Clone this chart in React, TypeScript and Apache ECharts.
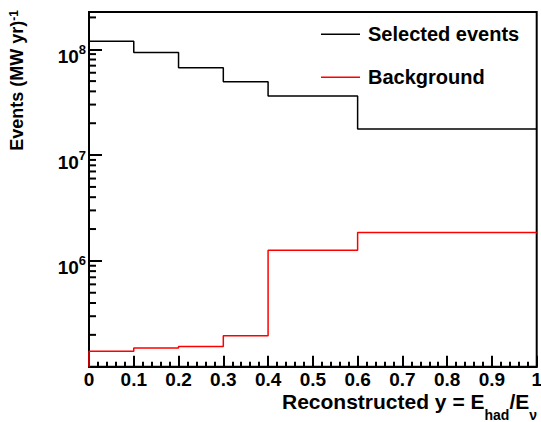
import React, { useEffect, useRef } from 'react';
import * as echarts from 'echarts';

// ---- data ----
const binEdges = [0, 0.1, 0.2, 0.3, 0.4, 0.6, 1.0];
const selectedEvents = [1.19e8, 9.3e7, 6.7e7, 4.94e7, 3.62e7, 1.76e7];
const backgroundEvents = [1.4e5, 1.5e5, 1.55e5, 1.96e5, 1.26e6, 1.85e6];
const seriesNames = ['Selected events', 'Background'];
const seriesColors = ['#000000', '#ff0000'];
const yMin = 1e5;
const yMax = 2.25e8;
const yLabelExponents = [6, 7, 8];
const xMin = 0;
const xMax = 1;
const xInterval = 0.1;

const FONT = '"Liberation Sans", Arial, Helvetica, sans-serif';

function histogramPoints(values: number[]): number[][] {
  const pts: number[][] = [[binEdges[0], yMin]];
  binEdges.forEach((e, i) => {
    pts.push([e, values[Math.min(i, values.length - 1)]]);
  });
  return pts;
}

function minorLogTicks(): number[][] {
  const out: number[][] = [];
  for (let k = 5; k <= 8; k++) {
    for (let m = 2; m <= 9; m++) {
      const v = m * Math.pow(10, k);
      if (v < yMax) out.push([0, v]);
    }
  }
  return out;
}

export default function App() {
  const ref = useRef<HTMLDivElement>(null);

  useEffect(() => {
    if (!ref.current) return;
    const chart = echarts.init(ref.current, null, { renderer: 'svg' });

    const option: any = {
      animation: false,
      backgroundColor: '#ffffff',
      textStyle: { fontFamily: FONT },
      grid: {
        left: 89,
        top: 12,
        right: 4.3,
        bottom: 55.3,
        containLabel: false,
        outerBoundsMode: 'none',
        show: true,
        borderColor: '#000',
        borderWidth: 2,
      },
      legend: {
        data: seriesNames,
        orient: 'vertical',
        left: 321,
        top: 21.3,
        itemGap: 17,
        padding: 0,
        icon: 'rect',
        itemWidth: 39,
        itemHeight: 1.5,
        selectedMode: false,
        textStyle: {
          fontFamily: FONT,
          fontSize: 20,
          fontWeight: 'bold',
          color: '#000',
          lineHeight: 20,
          padding: [6, 0, 0, 3],
        },
      },
      xAxis: {
        type: 'value',
        min: xMin,
        max: xMax,
        interval: xInterval,
        splitLine: { show: false },
        axisLine: { show: true, lineStyle: { color: '#000', width: 2 } },
        axisTick: { show: true, inside: true, length: 11, lineStyle: { color: '#000', width: 2 } },
        minorTick: { show: true, splitNumber: 5, length: 5, lineStyle: { color: '#000', width: 2 } },
        axisLabel: {
          show: true,
          interval: 0,
          margin: 3,
          fontFamily: FONT,
          fontSize: 19,
          fontWeight: 'bold',
          color: '#000',
          showMinLabel: true,
          showMaxLabel: true,
        },
      },
      yAxis: {
        type: 'log',
        logBase: 10,
        min: yMin,
        max: yMax,
        splitLine: { show: false },
        axisLine: { show: true, lineStyle: { color: '#000', width: 2 } },
        axisTick: { show: true, inside: true, length: 13, lineStyle: { color: '#000', width: 2 } },
        axisLabel: {
          show: true,
          margin: 3,
          color: '#000',
          formatter: (v: number) => {
            const e = Math.round(Math.log10(v));
            if (Math.abs(Math.log10(v) - e) > 1e-6) return '';
            if (yLabelExponents.indexOf(e) < 0) return '';
            return '{b|10}{s|' + e + '}';
          },
          rich: {
            b: { fontFamily: FONT, fontSize: 19, fontWeight: 'bold', color: '#000', lineHeight: 19, padding: [7, 0, 0, 0], verticalAlign: 'top' },
            s: { fontFamily: FONT, fontSize: 13, fontWeight: 'bold', color: '#000', lineHeight: 13, padding: [3, 0, 0, 0], verticalAlign: 'top' },
          },
        },
      },
      graphic: [
        {
          type: 'text',
          x: 16.5,
          y: 10,
          rotation: Math.PI / 2,
          style: {
            text: '{a|Events (MW yr)}{s|-1}',
            align: 'right',
            verticalAlign: 'middle',
            fill: '#000',
            rich: {
              a: { fontFamily: FONT, fontSize: 18, fontWeight: 'bold', fill: '#000', lineHeight: 18, padding: [4, 0, 0, 0], verticalAlign: 'bottom' },
              s: { fontFamily: FONT, fontSize: 12, fontWeight: 'bold', fill: '#000', lineHeight: 14, verticalAlign: 'top' },
            },
          },
        },
        {
          type: 'text',
          x: 537,
          y: 390.7,
          style: {
            text: '{a|Reconstructed y = E}{b|had}{a|/E}{b|ν}',
            align: 'right',
            verticalAlign: 'top',
            fill: '#000',
            rich: {
              a: { fontFamily: FONT, fontSize: 21, fontWeight: 'bold', fill: '#000', lineHeight: 21, verticalAlign: 'top' },
              b: { fontFamily: FONT, fontSize: 14, fontWeight: 'bold', fill: '#000', lineHeight: 11, padding: [17.5, 0, 0, 0], verticalAlign: 'top' },
            },
          },
        },
      ],
      series: [
        {
          name: seriesNames[0],
          type: 'line',
          step: 'end',
          symbol: 'none',
          color: seriesColors[0],
          lineStyle: { color: seriesColors[0], width: 1.5 },
          data: histogramPoints(selectedEvents),
          z: 3,
        },
        {
          name: seriesNames[1],
          type: 'line',
          step: 'end',
          symbol: 'none',
          color: seriesColors[1],
          lineStyle: { color: seriesColors[1], width: 1.5 },
          data: histogramPoints(backgroundEvents),
          z: 3,
        },
        {
          type: 'custom',
          silent: true,
          clip: false,
          z: 4,
          encode: { x: 0, y: 1 },
          data: minorLogTicks(),
          renderItem: (_params: any, api: any) => {
            const p = api.coord([api.value(0), api.value(1)]);
            return {
              type: 'line',
              shape: { x1: p[0], y1: p[1], x2: p[0] + 7, y2: p[1] },
              style: { stroke: '#000', lineWidth: 2 },
            };
          },
        },
      ],
    };

    chart.setOption(option);
    return () => {
      chart.dispose();
    };
  }, []);

  return (
    <div
      ref={ref}
      style={{ position: 'absolute', left: 0, top: 0, width: 541, height: 422, background: '#fff' }}
    />
  );
}
